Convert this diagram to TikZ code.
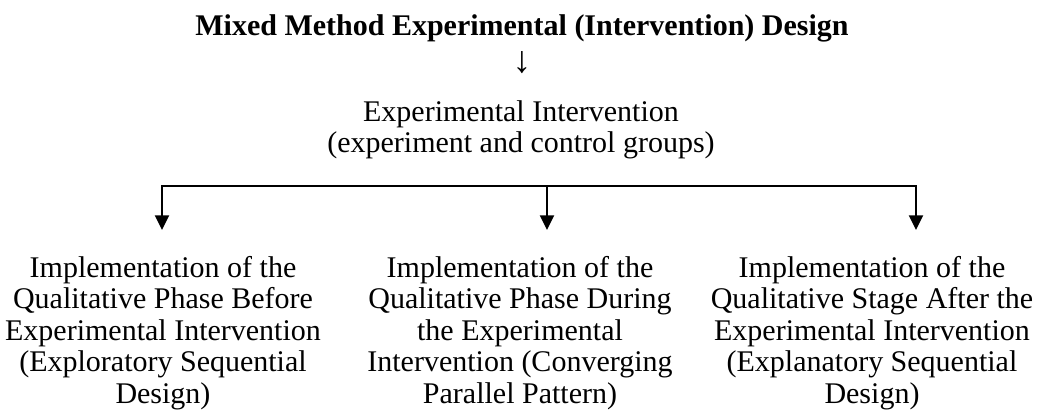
\documentclass[tikz,border=0pt]{standalone}
\usepackage{fontspec}
\setmainfont{Liberation Serif}
\usetikzlibrary{arrows.meta}

\begin{document}
\begin{tikzpicture}[x=0.75pt, y=-0.75pt, font=\fontsize{22.5}{23.6}\selectfont,
    phase/.style={align=center, anchor=north, inner sep=0pt},
    branch/.style={line width=1.5pt, -{Triangle[width=10.5pt, length=11pt]}}]
    % frame
    \useasboundingbox (0,0) rectangle (1040,418);

    % heading
    \node[anchor=base, font=\fontsize{22.5}{23.6}\selectfont\bfseries] (design) at (522,35) {Mixed Method Experimental (Intervention) Design};
    \node[inner sep=0pt, font=\fontsize{28}{30}\selectfont] (down) at (522,62.5) {↓};
    \node[phase] (intervention) at (521,100) {Experimental Intervention\\(experiment and control groups)};

    % phases
    \node[phase] (before) at (163,256) {Implementation of the\\Qualitative Phase Before\\Experimental Intervention\\(Exploratory Sequential\\Design)};
    \node[phase] (during) at (520,256) {Implementation of the\\Qualitative Phase During\\the Experimental\\Intervention (Converging\\Parallel Pattern)};
    \node[phase] (after) at (872,256) {Implementation of the\\Qualitative Stage After the\\Experimental Intervention\\(Explanatory Sequential\\Design)};

    % branches
    \coordinate (split) at (547,186);
    \coordinate (toBefore) at (162,230);
    \coordinate (toDuring) at (547,230);
    \coordinate (toAfter) at (916,230);
    \draw[branch] (split) -| (toBefore);
    \draw[branch] (split) -- (toDuring);
    \draw[branch] (split) -| (toAfter);

\end{tikzpicture}
\end{document}
